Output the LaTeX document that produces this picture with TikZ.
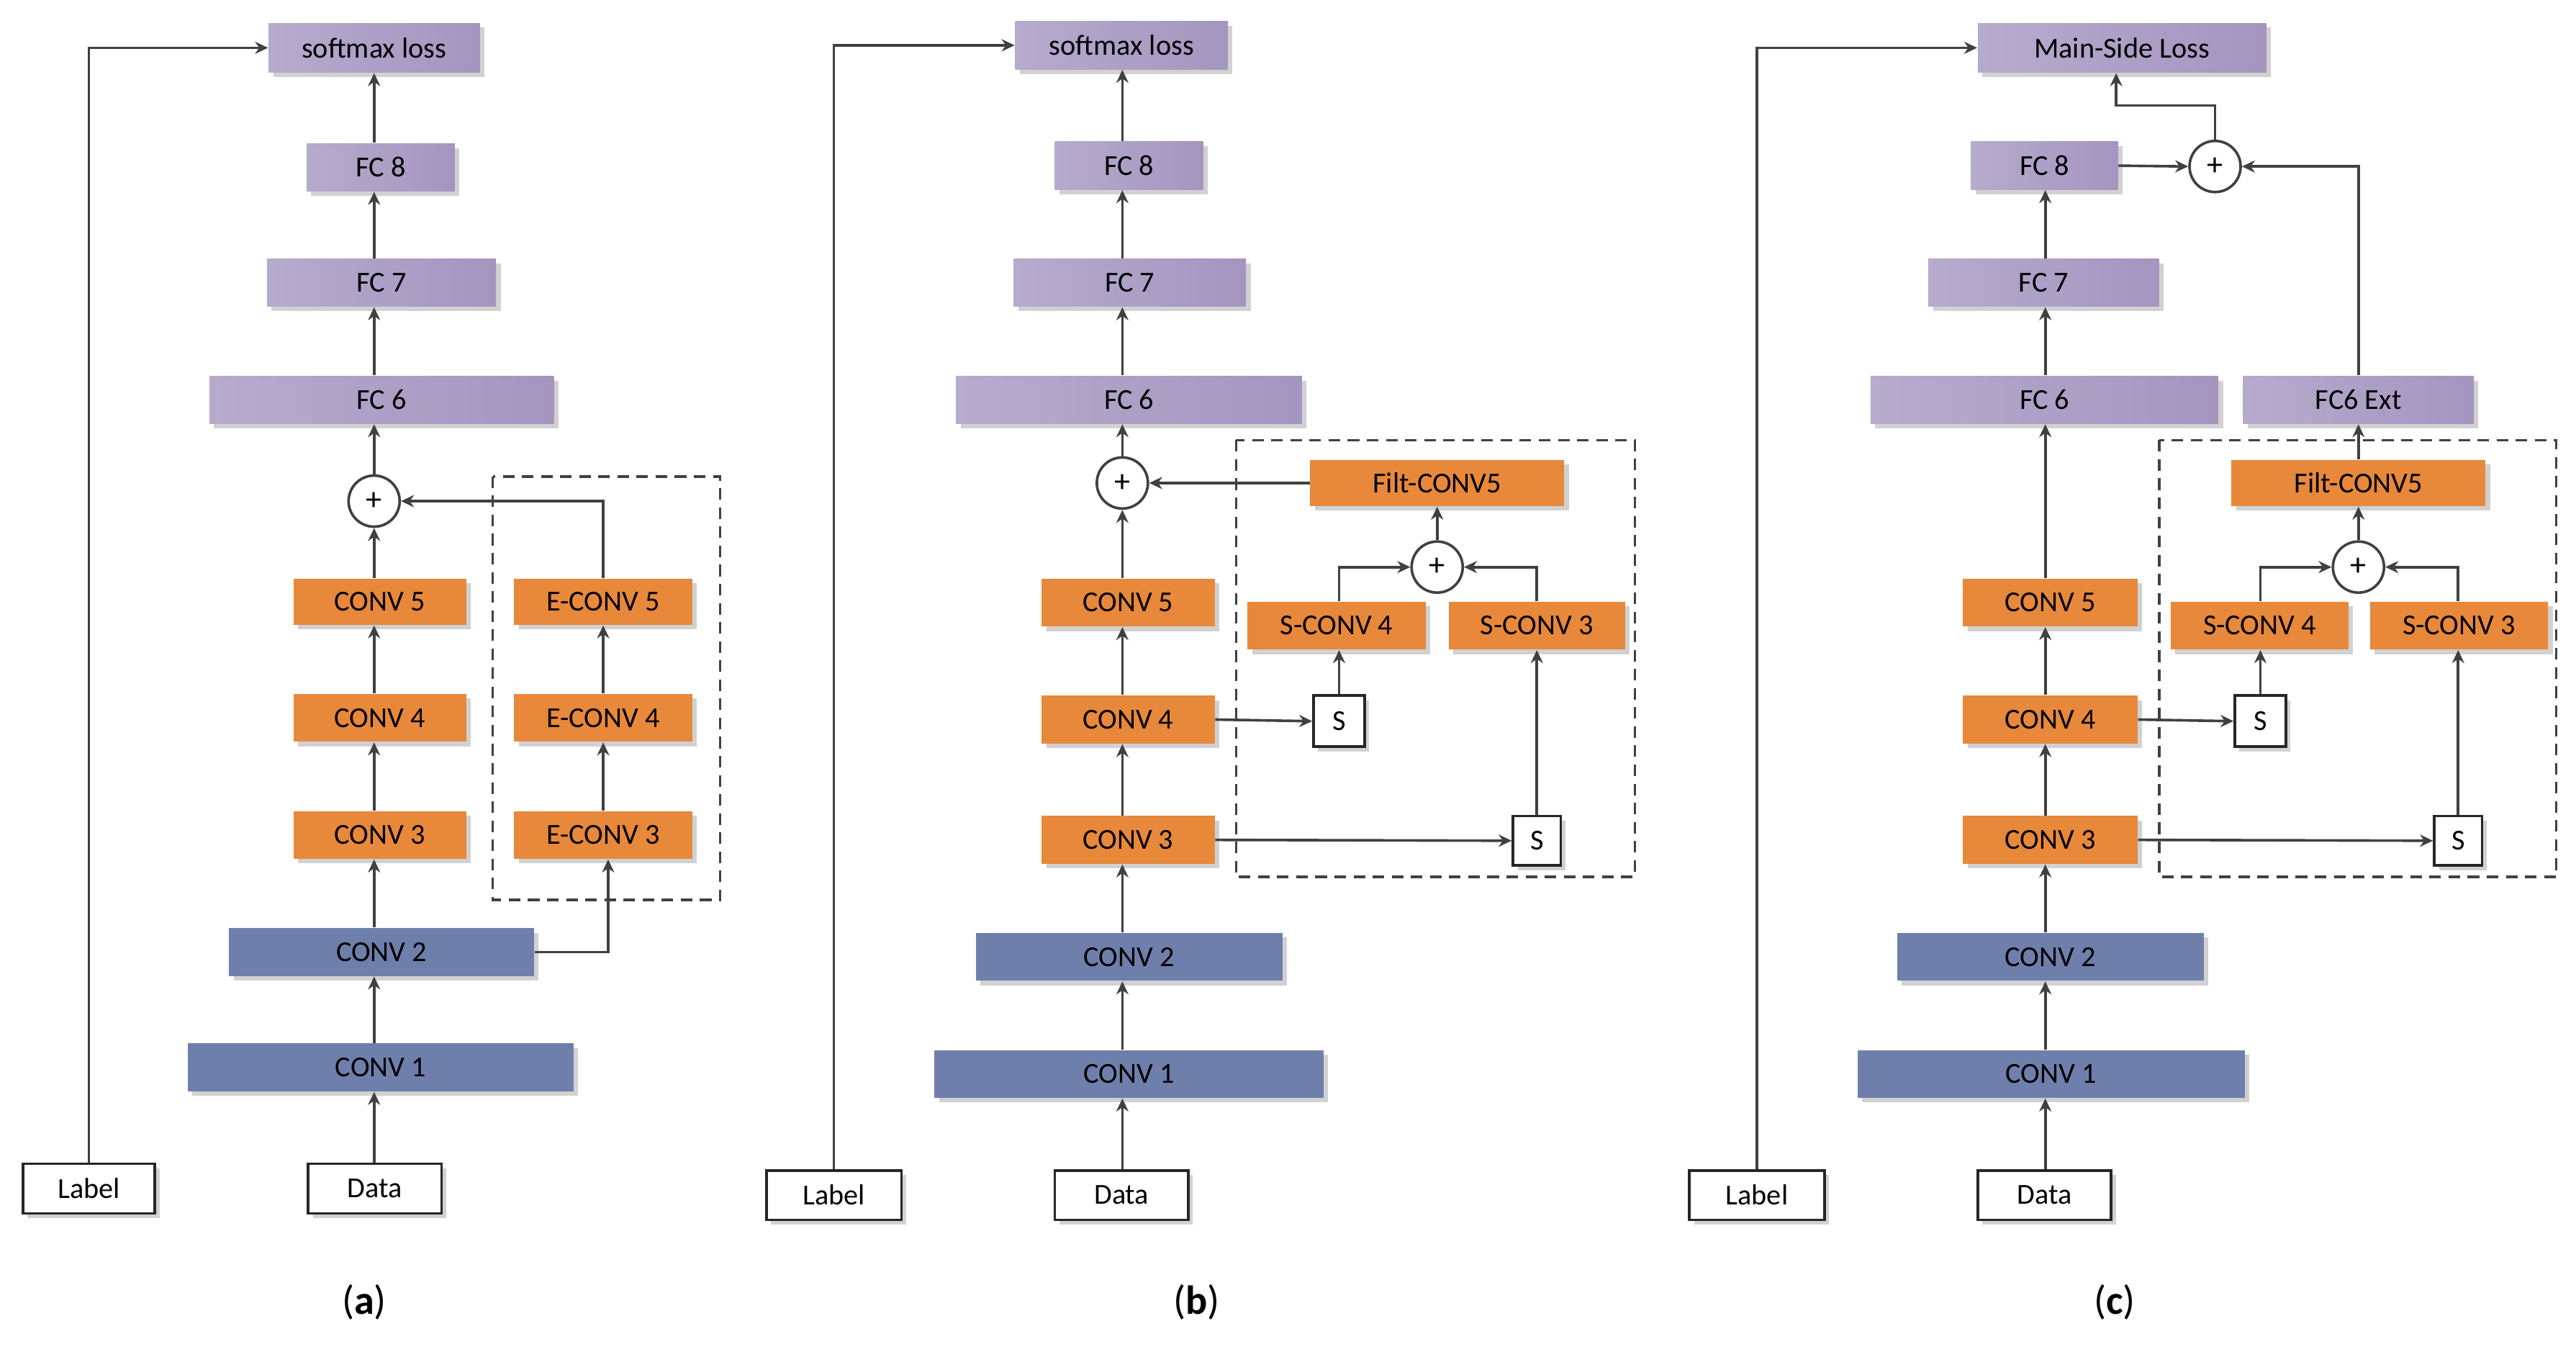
\documentclass[tikz,border=0pt]{standalone}
\usepackage{fontspec}
\setmainfont{Carlito}
\usetikzlibrary{arrows.meta,shadows,calc}
\definecolor{org}{HTML}{E8883A}
\definecolor{blu}{HTML}{6F7FAC}
\definecolor{purL}{HTML}{B6ABCD}
\definecolor{purR}{HTML}{A495BF}
\definecolor{ln}{HTML}{404040}
\newcommand\bx[7]{\node[box,#6, minimum width={(#3-#2)*0.02cm}, minimum height={(#5-#4)*0.02cm}] (#1) at ({(#2+#3)/2},{(#4+#5)/2}) {#7};}
\begin{document}
\begin{tikzpicture}[x=0.02cm,y=-0.02cm,
  box/.style={inner sep=0pt, font=\fontsize{10}{12}\selectfont, drop shadow={shadow xshift=1.6pt,shadow yshift=-1.6pt,fill=black!18,opacity=1}},
  og/.style={fill=org},
  bl/.style={fill=blu},
  pu/.style={left color=purL,right color=purR},
  wh/.style={fill=white,draw=black!85,line width=0.9pt},
  sm/.style={fill=white,draw=black!85,line width=0.9pt,font=\fontsize{10}{12}\selectfont},
  pl/.style={circle,draw=ln,fill=white,line width=0.9pt,minimum size={31*0.02cm},inner sep=0pt,font=\fontsize{11}{12}\selectfont},
  ar/.style={draw=ln,line width=0.9pt,-{Stealth[length=4.5pt,width=4.2pt]}},
  dbox/.style={draw=ln,line width=0.9pt,dash pattern=on 4pt off 2.6pt},
  captxt/.style={font=\fontsize{14}{16}\selectfont}]
\useasboundingbox (0,0) rectangle (1563,820);
% ---------------- (a)
\bx{aL}{163}{291}{14}{44}{pu}{softmax loss}
\bx{a8}{186}{276}{87}{116}{pu}{FC 8}
\bx{a7}{162}{301}{157}{186}{pu}{FC 7}
\bx{a6}{127}{336}{228}{257}{pu}{FC 6}
\node[pl] (ap) at (227,304) {+};
\bx{a5}{178}{283}{351}{379}{og}{CONV 5}
\bx{a4}{178}{283}{421}{450}{og}{CONV 4}
\bx{a3}{178}{283}{492}{521}{og}{CONV 3}
\bx{a2}{139}{324}{563}{592}{bl}{CONV 2}
\bx{a1}{114}{348}{633}{662}{bl}{CONV 1}
\bx{aD}{187}{268}{706}{736}{wh}{Data}
\bx{aLb}{14}{94}{706}{736}{wh}{Label}
\bx{ae5}{312}{420}{351}{379}{og}{E-CONV 5}
\bx{ae4}{312}{420}{421}{450}{og}{E-CONV 4}
\bx{ae3}{312}{420}{492}{521}{og}{E-CONV 3}
\draw[dbox] (299,289) rectangle (437,546);
\draw[ar] (aD.north -| 227,0) -- (a1.south -| 227,0);
\draw[ar] (a1.north -| 227,0) -- (a2.south -| 227,0);
\draw[ar] (a2.north -| 227,0) -- (a3.south -| 227,0);
\draw[ar] (a3.north -| 227,0) -- (a4.south -| 227,0);
\draw[ar] (a4.north -| 227,0) -- (a5.south -| 227,0);
\draw[ar] (a5.north -| 227,0) -- (ap);
\draw[ar] (ap) -- (a6.south -| 227,0);
\draw[ar] (a6.north -| 227,0) -- (a7.south -| 227,0);
\draw[ar] (a7.north -| 227,0) -- (a8.south -| 227,0);
\draw[ar] (a8.north -| 227,0) -- (aL.south -| 227,0);
\draw[ar] (a2.east) -| (ae3.south -| 369,0);
\draw[ar] (ae3) -- (ae4);
\draw[ar] (ae4) -- (ae5);
\draw[ar] (ae5.north) |- (ap.east);
\draw[ar] (aLb.north) |- (aL.west);
\node[captxt] (ca) at (221,790) {(\textbf{a})};
% ---------------- (b)
\bx{bL}{616}{745}{13}{42}{pu}{softmax loss}
\bx{b8}{640}{730}{86}{115}{pu}{FC 8}
\bx{b7}{615}{756}{157}{186}{pu}{FC 7}
\bx{b6}{580}{790}{228}{257}{pu}{FC 6}
\node[pl] (bp) at (681,293) {+};
\bx{b5}{632}{737}{351}{380}{og}{CONV 5}
\bx{b4}{632}{737}{422}{451}{og}{CONV 4}
\bx{b3}{632}{737}{495}{524}{og}{CONV 3}
\bx{b2}{592}{778}{566}{595}{bl}{CONV 2}
\bx{b1}{567}{803}{637}{666}{bl}{CONV 1}
\bx{bD}{640}{721}{710}{740}{wh}{Data}
\bx{bLb}{465}{547}{710}{740}{wh}{Label}
\draw[dbox] (750,267) rectangle (992,532);
\bx{bF}{795}{949}{279}{307}{og}{Filt-CONV5}
\node[pl] (bq) at (872,344) {+};
\bx{bs4}{757}{865}{365}{394}{og}{S-CONV 4}
\bx{bs3}{879}{986}{365}{394}{og}{S-CONV 3}
\bx{bS1}{797}{828}{422}{453}{sm}{S}
\bx{bS2}{918}{947}{495}{525}{sm}{S}
\draw[ar] (bD.north -| 681,0) -- (b1.south -| 681,0);
\draw[ar] (b1.north -| 681,0) -- (b2.south -| 681,0);
\draw[ar] (b2.north -| 681,0) -- (b3.south -| 681,0);
\draw[ar] (b3.north -| 681,0) -- (b4.south -| 681,0);
\draw[ar] (b4.north -| 681,0) -- (b5.south -| 681,0);
\draw[ar] (b5.north -| 681,0) -- (bp);
\draw[ar] (bp) -- (b6.south -| 681,0);
\draw[ar] (b6.north -| 681,0) -- (b7.south -| 681,0);
\draw[ar] (b7.north -| 681,0) -- (b8.south -| 681,0);
\draw[ar] (b8.north -| 681,0) -- (bL.south -| 681,0);
\draw[ar] (bLb.north) |- (bL.west);
\draw[ar] (b4.east) -- (bS1.west);
\draw[ar] (b3.east) -- (bS2.west);
\draw[ar] (bS1.north) -- (bs4.south -| bS1.north);
\draw[ar] (bS2.north) -- (bs3.south -| bS2.north);
\draw[ar] (bs4.north -| bS1.north) |- (bq.west);
\draw[ar] (bs3.north -| bS2.north) |- (bq.east);
\draw[ar] (bq.north) -- (bF.south -| bq.north);
\draw[ar] (bF.west) -- (bp.east);
\node[captxt] (cb) at (726,790) {(\textbf{b})};
% ---------------- (c)
\bx{cL}{1200}{1375}{14}{44}{pu}{Main-Side Loss}
\bx{c8}{1196}{1285}{86}{115}{pu}{FC 8}
\bx{c7}{1170}{1310}{157}{186}{pu}{FC 7}
\bx{c6}{1135}{1346}{228}{257}{pu}{FC 6}
\bx{cX}{1361}{1501}{228}{257}{pu}{FC6 Ext}
\node[pl] (cr) at (1344,101) {+};
\bx{c5}{1191}{1297}{351}{380}{og}{CONV 5}
\bx{c4}{1191}{1297}{422}{451}{og}{CONV 4}
\bx{c3}{1191}{1297}{495}{524}{og}{CONV 3}
\bx{c2}{1151}{1337}{566}{595}{bl}{CONV 2}
\bx{c1}{1127}{1362}{637}{666}{bl}{CONV 1}
\bx{cD}{1200}{1281}{710}{740}{wh}{Data}
\bx{cLb}{1025}{1107}{710}{740}{wh}{Label}
\draw[dbox] (1310,267) rectangle (1551,532);
\bx{cF}{1354}{1508}{279}{307}{og}{Filt-CONV5}
\node[pl] (cq) at (1431,344) {+};
\bx{cs4}{1317}{1425}{365}{394}{og}{S-CONV 4}
\bx{cs3}{1438}{1546}{365}{394}{og}{S-CONV 3}
\bx{cS1}{1356}{1387}{422}{453}{sm}{S}
\bx{cS2}{1477}{1506}{495}{525}{sm}{S}
\draw[ar] (cD.north -| 1241,0) -- (c1.south -| 1241,0);
\draw[ar] (c1.north -| 1241,0) -- (c2.south -| 1241,0);
\draw[ar] (c2.north -| 1241,0) -- (c3.south -| 1241,0);
\draw[ar] (c3.north -| 1241,0) -- (c4.south -| 1241,0);
\draw[ar] (c4.north -| 1241,0) -- (c5.south -| 1241,0);
\draw[ar] (c5.north -| 1241,0) -- (c6.south -| 1241,0);
\draw[ar] (c6.north -| 1241,0) -- (c7.south -| 1241,0);
\draw[ar] (c7.north -| 1241,0) -- (c8.south -| 1241,0);
\draw[ar] (cLb.north) |- (cL.west);
\draw[ar] (c8.east) -- (cr.west);
\draw[ar] (cr.north) |- (1284,64) -- (cL.south -| 1284,0);
\draw[ar] (cX.north) |- (cr.east);
\draw[ar] (c4.east) -- (cS1.west);
\draw[ar] (c3.east) -- (cS2.west);
\draw[ar] (cS1.north) -- (cs4.south -| cS1.north);
\draw[ar] (cS2.north) -- (cs3.south -| cS2.north);
\draw[ar] (cs4.north -| cS1.north) |- (cq.west);
\draw[ar] (cs3.north -| cS2.north) |- (cq.east);
\draw[ar] (cq.north) -- (cF.south -| cq.north);
\draw[ar] (cF.north) -- (cX.south -| cF.north);
\node[captxt] (cc) at (1283,790) {(\textbf{c})};
\end{tikzpicture}
\end{document}
